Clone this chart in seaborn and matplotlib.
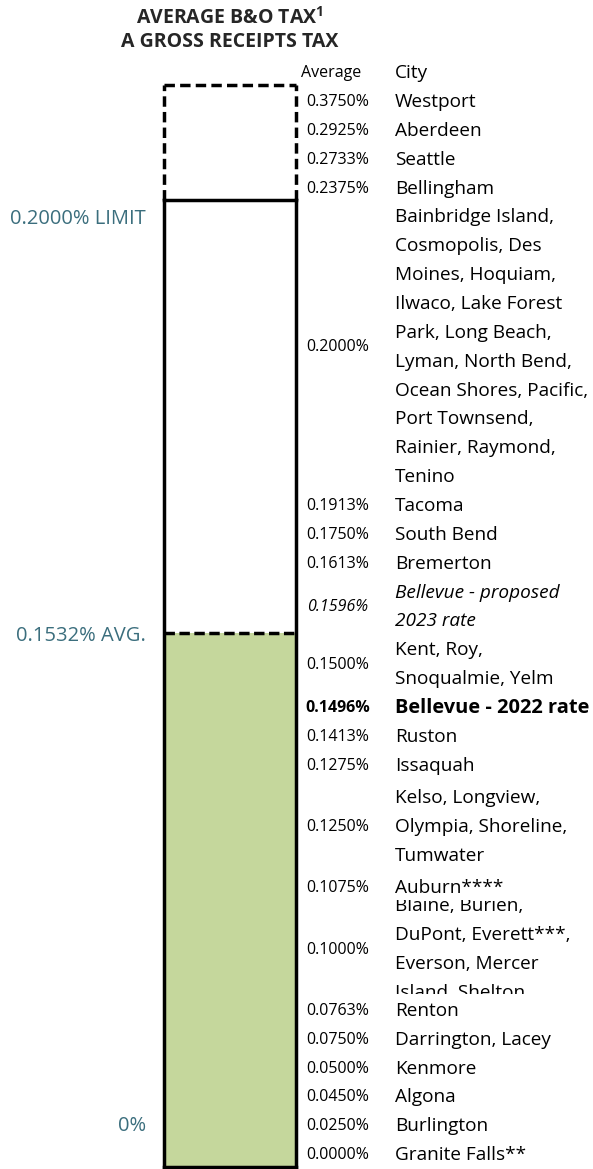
import matplotlib
matplotlib.use("Agg")
import matplotlib.pyplot as plt
import matplotlib.transforms as mtransforms
import numpy as np
import pandas as pd
import seaborn as sns

# table rows, top to bottom
rates = [0.3750, 0.2925, 0.2733, 0.2375, 0.2000, 0.1913, 0.1750, 0.1613,
         0.1596, 0.1500, 0.1496, 0.1413, 0.1275, 0.1250, 0.1075, 0.1000,
         0.0763, 0.0750, 0.0500, 0.0450, 0.0250, 0.0000]
cities = [
    "Westport", "Aberdeen", "Seattle", "Bellingham",
    "Bainbridge Island,\nCosmopolis, Des\nMoines, Hoquiam,\nIlwaco, Lake Forest\n"
    "Park, Long Beach,\nLyman, North Bend,\nOcean Shores, Pacific,\nPort Townsend,\n"
    "Rainier, Raymond,\nTenino",
    "Tacoma", "South Bend", "Bremerton",
    "Bellevue - proposed\n2023 rate",
    "Kent, Roy,\nSnoqualmie, Yelm",
    "Bellevue - 2022 rate",
    "Ruston", "Issaquah",
    "Kelso, Longview,\nOlympia, Shoreline,\nTumwater",
    "Auburn****",
    "Blaine, Burien,\nDuPont, Everett***,\nEverson, Mercer\nIsland, Shelton",
    "Renton", "Darrington, Lacey", "Kenmore", "Algona", "Burlington",
    "Granite Falls**",
]
# height of each row cell, in text lines
row_lines = [1, 1, 1, 1, 10, 1, 1, 1, 2, 2, 1, 1, 1, 3.25, 1, 3.25,
             1, 1, 1, 1, 1, 1]
styles = ["normal"] * 8 + ["italic", "normal", "bold"] + ["normal"] * 11

limit_rate = 0.2000
avg_rate = 0.1532
title = ["AVERAGE B&O TAX$^{\\mathbf{1}}$", "A GROSS RECEIPTS TAX"]

df = pd.DataFrame({"rate": rates, "city": cities, "lines": row_lines,
                   "style": styles})

GREEN = "#c5d79c"
TEAL = "#3b6e7d"
W, H = 593, 1169

sns.set_theme(style="white")
plt.rcParams["font.family"] = ["Open Sans", "DejaVu Sans"]
plt.rcParams["mathtext.fontset"] = "custom"
plt.rcParams["mathtext.bf"] = "Open Sans:bold"
plt.rcParams["mathtext.rm"] = "Open Sans:bold"

total = df["lines"].sum()
df["top"] = total - df["lines"].cumsum().shift(fill_value=0)
df["bottom"] = df["top"] - df["lines"]
df["mid"] = (df["top"] + df["bottom"]) / 2

limit_y = df.loc[df["rate"] <= limit_rate, "top"].iloc[0]
avg_y = df.loc[df["rate"] < avg_rate, "top"].iloc[0]

fig = plt.figure(figsize=(W / 100, H / 100), dpi=100)
bx0, bx1 = 164, 296
by0, by1 = 85, 1167
ax = fig.add_axes([bx0 / W, 1 - by1 / H, (bx1 - bx0) / W, (by1 - by0) / H])

bar_df = pd.DataFrame({"k": ["b"], "full": [total], "avg": [avg_y]})
sns.barplot(data=bar_df, x="k", y="full", color="white", width=1,
            saturation=1, ax=ax, linewidth=0)
sns.barplot(data=bar_df, x="k", y="avg", color=GREEN, width=1,
            saturation=1, ax=ax, linewidth=0)
ax.set_xlim(-0.5, 0.5)
ax.set_ylim(0, total)
ax.set_axis_off()

lw = 2.5
dash = (0, (3.0, 1.5))
for xx in (-0.5, 0.5):
    ax.plot([xx, xx], [0, limit_y], color="black", lw=lw, clip_on=False,
            solid_capstyle="projecting")
    ax.plot([xx, xx], [limit_y, total], color="black", lw=lw, ls=dash,
            clip_on=False)
ax.plot([-0.5, 0.5], [0, 0], color="black", lw=lw, clip_on=False,
        solid_capstyle="projecting")
ax.plot([-0.5, 0.5], [limit_y, limit_y], color="black", lw=lw,
        clip_on=False, solid_capstyle="projecting")
ax.plot([-0.5, 0.5], [total, total], color="black", lw=lw, ls=dash,
        clip_on=False)
ax.plot([-0.5, 0.5], [avg_y, avg_y], color="black", lw=lw, ls=(0, (3.0, 1.3)),
        clip_on=False)

trans = mtransforms.blended_transform_factory(fig.transFigure, ax.transData)
fs_city = 13.7
fs_val = 11.5
dy = -0.09  # nudge text a touch lower in its row

for _, r in df.iterrows():
    bold = r["style"] == "bold"
    weight = "bold" if bold else "normal"
    fstyle = "italic" if r["style"] == "italic" else "normal"
    ax.text(338 / W, r["mid"] + dy, f"{r['rate']:.4f}%", transform=trans,
            ha="center", va="center", fontsize=fs_val, weight=weight,
            style=fstyle, color="black")
    lines = r["city"].split("\n")
    n = len(lines)
    clip = None
    if n > r["lines"]:
        clip = mtransforms.TransformedBbox(
            mtransforms.Bbox([[0, r["bottom"]], [1, r["top"]]]), trans)
    for j, line in enumerate(lines):
        t = ax.text(395 / W, r["mid"] + (n - 1) / 2 - j + dy, line,
                    transform=trans, ha="left", va="center",
                    fontsize=14.4 if bold else fs_city, weight=weight,
                    style=fstyle, color="black")
        if clip is not None:
            t.set_clip_box(clip)
            t.set_clip_on(True)

# header row
ax.text(331 / W, total + 0.5 + dy, "Average", transform=trans, ha="center",
        va="center", fontsize=fs_val, color="black")
ax.text(395 / W, total + 0.5 + dy, "City", transform=trans, ha="left",
        va="center", fontsize=fs_city, color="black")

# left reference labels
left_labels = [("0.2000% LIMIT", limit_y - 0.55),
               ("0.1532% AVG.", avg_y),
               ("0%", 1.5)]
for txt, yy in left_labels:
    ax.text(146 / W, yy + dy, txt, transform=trans, ha="right", va="center",
            fontsize=14.5, color=TEAL)

fig.text(230 / W, 1 - 18 / H, title[0], ha="center", va="center",
         fontsize=14, weight="bold")
fig.text(230 / W, 1 - 42 / H, title[1], ha="center", va="center",
         fontsize=14, weight="bold")

fig.savefig("out.png", dpi=100, facecolor="white")
